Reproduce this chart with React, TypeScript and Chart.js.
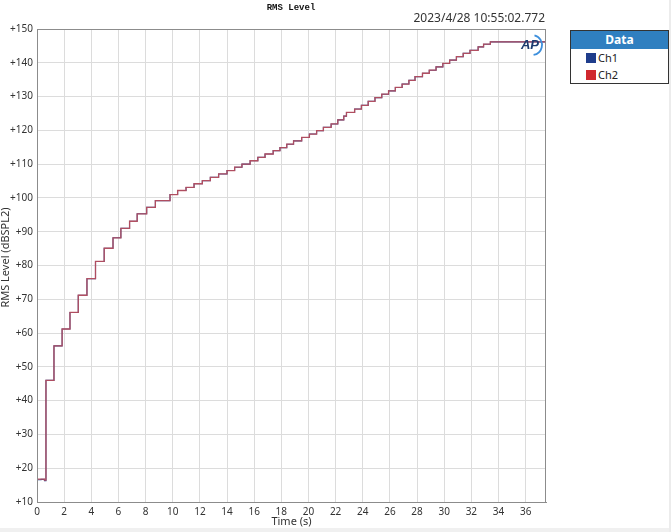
import React, { useEffect, useRef } from "react";
import { Chart, registerables } from "chart.js";

Chart.register(...registerables);

const chartTitle = "RMS Level";
const timestamp = "2023/4/28 10:55:02.772";
const xTitle = "Time (s)";
const yTitle = "RMS Level (dBSPL2)";
const legendTitle = "Data";
const seriesNames = ["Ch1", "Ch2"];
const seriesColors = ["#1f3d8c", "#d0282e"];

const xMin = 0;
const xMax = 37.5;
const xStep = 2;
const yMin = 10;
const yMax = 150;
const yStep = 10;

// Step start times (s)
const stepTimes = [
  0, 0.3, 0.55, 0.66, 1.25, 1.85, 2.43, 3.04, 3.68, 4.31, 4.95, 5.6, 6.18, 6.82,
  7.38, 8.08, 8.72, 9.8, 10.36, 10.98, 11.57, 12.18, 12.77, 13.38, 14.0, 14.56,
  15.1, 15.7, 16.27, 16.8, 17.4, 17.9, 18.4, 18.9, 19.5, 20.07, 20.6, 21.1,
  21.67, 22.16, 22.6, 22.8, 23.4, 23.9, 24.4, 24.9, 25.4, 25.9, 26.4, 26.9,
  27.4, 27.85, 28.4, 28.9, 29.4, 29.9, 30.4, 30.9, 31.4, 31.9, 32.5, 32.9,
  33.4, 37.5,
];

// Ch1 level at each step (dBSPL2)
const ch1Levels = [
  16.6, 16.7, 16.3, 46.0, 56.2, 61.2, 66.1, 71.2, 76.1, 81.2, 85.1, 88.2, 91.0,
  93.1, 95.3, 97.2, 99.2, 101.0, 102.2, 103.1, 104.2, 105.1, 106.1, 107.1,
  108.1, 109.1, 110.0, 111.0, 112.0, 113.0, 114.0, 114.9, 115.9, 116.9, 117.9,
  118.9, 119.9, 120.9, 121.9, 123.1, 124.2, 125.3, 126.3, 127.4, 128.6, 129.7,
  130.7, 131.7, 132.7, 133.7, 134.8, 135.9, 136.9, 137.8, 138.8, 139.8, 140.8,
  141.8, 142.8, 143.7, 144.7, 145.5, 146.2, 146.2,
];

// Ch2 level at each step (dBSPL2)
const ch2Levels = [
  16.8, 16.8, 16.5, 46.0, 56.2, 61.2, 66.1, 71.2, 76.1, 81.2, 85.1, 88.2, 91.0,
  93.1, 95.3, 97.2, 99.2, 101.0, 102.2, 103.1, 104.2, 105.1, 106.1, 107.1,
  108.1, 109.1, 110.0, 111.0, 112.0, 113.0, 114.0, 114.9, 115.9, 116.9, 117.9,
  118.9, 119.9, 120.9, 121.9, 123.1, 124.2, 125.3, 126.3, 127.4, 128.6, 129.7,
  130.7, 131.7, 132.7, 133.7, 134.8, 135.9, 136.9, 137.8, 138.8, 139.8, 140.8,
  141.8, 142.8, 143.7, 144.7, 145.5, 146.2, 146.2,
];

const FONT = "'Noto Sans', 'Open Sans', sans-serif";

const decorPlugin = {
  id: "decor",
  afterDraw(chart: any) {
    const { ctx, chartArea } = chart;
    const { left, top, right, bottom } = chartArea;
    ctx.save();
    // frame
    ctx.strokeStyle = "#8c8c8c";
    ctx.lineWidth = 1;
    ctx.strokeRect(Math.round(left) + 0.5, Math.round(top) + 0.5, Math.round(right - left) - 1, Math.round(bottom - top));
    // title
    ctx.fillStyle = "#111";
    ctx.font = "bold 9px 'Liberation Mono', monospace";
    ctx.textAlign = "center";
    ctx.textBaseline = "middle";
    ctx.fillText(chartTitle, 291, 8);
    // timestamp
    ctx.fillStyle = "#333";
    ctx.font = `12px ${FONT}`;
    ctx.textAlign = "right";
    ctx.fillText(timestamp, 545, 19);
    // x title
    ctx.font = `11px ${FONT}`;
    ctx.textAlign = "center";
    ctx.fillText(xTitle, (left + right) / 2, 522);
    // y title
    ctx.translate(6, (top + bottom) / 2 - 8);
    ctx.rotate(-Math.PI / 2);
    ctx.fillText(yTitle, 0, 0);
    ctx.restore();

    // AP logo
    ctx.save();
    ctx.strokeStyle = "#3d8fdc";
    ctx.lineWidth = 1.8;
    ctx.beginPath();
    ctx.arc(532, 45, 10, -Math.PI * 0.42, Math.PI * 0.45);
    ctx.stroke();
    ctx.fillStyle = "#1b3a6e";
    ctx.font = `italic bold 13px 'Liberation Sans', sans-serif`;
    ctx.textAlign = "center";
    ctx.textBaseline = "middle";
    ctx.fillText("AP", 530, 45);
    ctx.restore();
  },
};

export default function App() {
  const canvasRef = useRef<HTMLCanvasElement | null>(null);

  useEffect(() => {
    document.body.style.margin = "0";
    const canvas = canvasRef.current;
    if (!canvas) return;
    const mk = (levels: number[]) => stepTimes.map((t, i) => ({ x: t, y: levels[i] }));
    const chart = new Chart(canvas, {
      type: "line",
      data: {
        datasets: [
          {
            label: seriesNames[0],
            data: mk(ch1Levels),
            borderColor: seriesColors[0],
            borderWidth: 1.1,
            pointRadius: 0,
            stepped: true,
            fill: false,
            order: 2,
          },
          {
            label: seriesNames[1],
            data: mk(ch2Levels),
            borderColor: "rgba(188,78,92,0.92)",
            borderWidth: 1.3,
            pointRadius: 0,
            stepped: true,
            fill: false,
            order: 1,
          },
        ],
      },
      options: {
        responsive: false,
        animation: false,
        devicePixelRatio: 1,
        layout: { padding: { top: 29, right: 125, bottom: 0, left: 0 } },
        plugins: {
          legend: { display: false },
          title: { display: false },
          tooltip: { enabled: false },
        },
        scales: {
          x: {
            type: "linear",
            min: xMin,
            max: xMax,
            afterFit: (s: any) => {
              s.height = 30;
            },
            grid: { color: "#dcdcdc", drawTicks: false },
            border: { color: "#8c8c8c" },
            ticks: {
              stepSize: xStep,
              includeBounds: false,
              padding: 4,
              maxRotation: 0,
              autoSkip: false,
              color: "#333",
              font: { family: FONT, size: 10 },
            },
          },
          y: {
            type: "linear",
            min: yMin,
            max: yMax,
            afterFit: (s: any) => {
              s.width = 37;
            },
            grid: { color: "#dcdcdc", drawTicks: false },
            border: { color: "#8c8c8c" },
            ticks: {
              stepSize: yStep,
              includeBounds: false,
              padding: 4,
              color: "#333",
              font: { family: FONT, size: 10 },
              callback: (v: any) => "+" + v,
            },
          },
        },
      },
      plugins: [decorPlugin],
    });
    return () => chart.destroy();
  }, []);

  return (
    <div style={{ position: "relative", width: 671, height: 532, background: "#fff", overflow: "hidden" }}>
      <canvas ref={canvasRef} width={671} height={532} style={{ display: "block" }} />
      <div
        style={{
          position: "absolute",
          left: 570,
          top: 30,
          width: 97,
          height: 52,
          border: "1px solid #333",
          background: "#fff",
          fontFamily: FONT,
          fontSize: 11,
          color: "#222",
        }}
      >
        <div
          style={{
            background: "#2f7fc0",
            color: "#fff",
            fontWeight: "bold",
            fontSize: 12,
            textAlign: "center",
            height: 18,
            lineHeight: "18px",
          }}
        >
          {legendTitle}
        </div>
        {seriesNames.map((n, i) => (
          <div key={n} style={{ display: "flex", alignItems: "center", height: 17, paddingLeft: 15 }}>
            <span style={{ width: 10, height: 10, background: seriesColors[i], display: "inline-block", marginRight: 2 }} />
            <span>{n}</span>
          </div>
        ))}
      </div>
      <div style={{ position: "absolute", left: 0, top: 528, width: 671, height: 4, background: "#f0f0f0" }} />
      <div style={{ position: "absolute", left: 669, top: 0, width: 2, height: 532, background: "#ececec" }} />
    </div>
  );
}
